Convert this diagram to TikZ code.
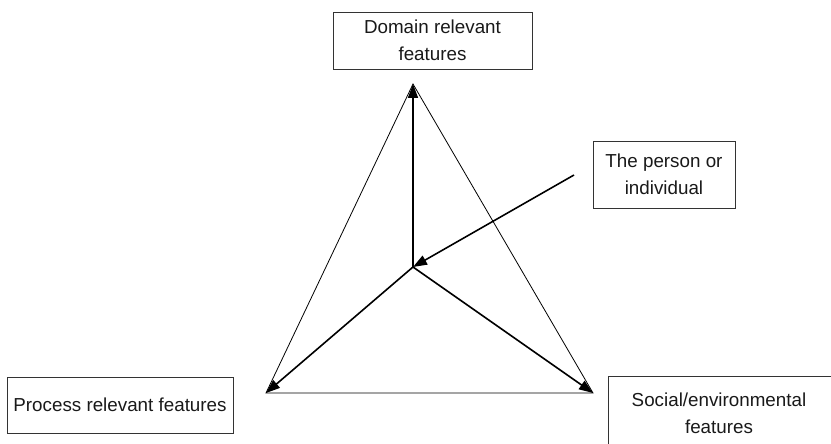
\documentclass[tikz,border=0pt]{standalone}
\usepackage{fontspec}
\setmainfont{Liberation Sans}
\usetikzlibrary{arrows.meta}
\tikzset{
  boxnode/.style={draw=black!80, line width=0.9pt, align=center, inner sep=0pt,
    font=\fontsize{18.8}{27}\selectfont, text=black!90},
  thinline/.style={line width=0.8pt, black},
  arrowline/.style={line width=1.6pt, black, -{Triangle[length=14pt,width=10pt]}}
}
\begin{document}
\begin{tikzpicture}[x=1pt,y=-1pt]
\useasboundingbox (0,0) rectangle (831,444);
\clip (0,0) rectangle (831,444);
\node[boxnode, minimum width=199pt, minimum height=57pt] (dom) at (432.5,40.5) {Domain relevant\\features};
\node[boxnode, minimum width=142pt, minimum height=67pt] (per) at (664,174.5) {The person or\\individual};
\node[boxnode, minimum width=226pt, minimum height=56pt] (pro) at (120,405) {Process relevant features};
\node[boxnode, minimum width=236pt, minimum height=74pt, anchor=north west] (socbox) at (608,376) {};
\node[boxnode, draw=none] (soc) at (719,413) {Social/environmental\\features};
\coordinate (A) at (413,84);
\coordinate (L) at (266,393);
\coordinate (R) at (593,393);
\coordinate (C) at (413,267);
\coordinate (S) at (574,175);
\draw[thinline] (A) -- (L) -- (R) -- cycle;
\draw[arrowline] (C) -- (A);
\draw[arrowline] (C) -- (L);
\draw[arrowline] (C) -- (R);
\draw[arrowline] (S) -- (C);
\end{tikzpicture}
\end{document}
